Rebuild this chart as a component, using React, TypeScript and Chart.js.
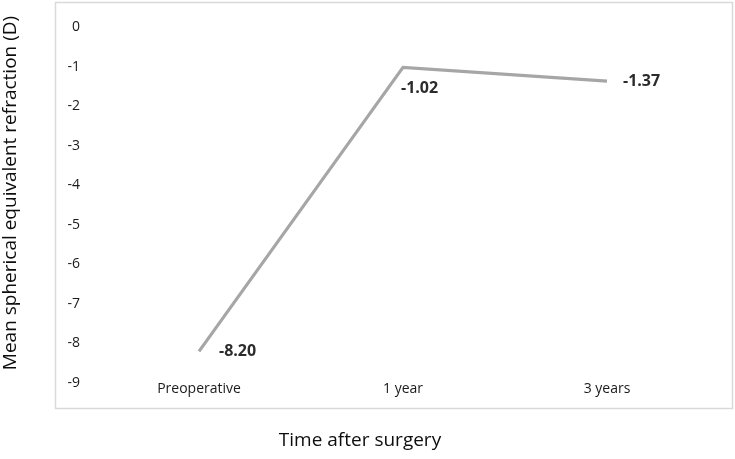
import React, { useEffect, useRef } from "react";
import { Chart, registerables } from "chart.js";

Chart.register(...registerables);

const categories: string[] = ["Preoperative", "1 year", "3 years"];
const meanSE: number[] = [-8.2, -1.02, -1.37];
const valueLabels: string[] = ["-8.20", "-1.02", "-1.37"];
const yTicksMin = -9;
const yTicksMax = 0;

const FONT = "'Open Sans', 'Noto Sans', sans-serif";

const decorPlugin = {
  id: "decor",
  afterDraw(chart: any) {
    const ctx = chart.ctx;
    ctx.save();
    // border
    ctx.strokeStyle = "#d9d9d9";
    ctx.lineWidth = 1.5;
    ctx.strokeRect(55.5, 2.5, 677, 406);
    // y title
    ctx.fillStyle = "#0d0d0d";
    ctx.font = `19px ${FONT}`;
    ctx.textAlign = "center";
    ctx.textBaseline = "middle";
    ctx.save();
    ctx.translate(11, 193);
    ctx.rotate(-Math.PI / 2);
    ctx.fillText("Mean spherical equivalent refraction (D)", 0, 0);
    ctx.restore();
    // x title
    ctx.fillText("Time after surgery", 360, 441);
    // value labels
    const meta = chart.getDatasetMeta(0);
    const offsets = [
      [20, 0],
      [-2, 21],
      [16, 0],
    ];
    ctx.font = `bold 16px ${FONT}`;
    ctx.fillStyle = "#2b2b2b";
    ctx.textAlign = "left";
    meta.data.forEach((pt: any, i: number) => {
      ctx.fillText(valueLabels[i], pt.x + offsets[i][0], pt.y + offsets[i][1]);
    });
    ctx.restore();
  },
};

export default function App() {
  const ref = useRef<HTMLCanvasElement | null>(null);
  useEffect(() => {
    document.body.style.margin = "0";
    const chart = new Chart(ref.current as HTMLCanvasElement, {
      type: "line",
      data: {
        labels: categories,
        datasets: [
          {
            data: meanSE,
            borderColor: "#a6a6a6",
            borderWidth: 3.2,
            pointRadius: 0,
            tension: 0,
            fill: false,
          },
        ],
      },
      options: {
        animation: false,
        responsive: false,
        maintainAspectRatio: false,
        layout: { padding: { left: 0, right: 26, top: 27, bottom: 0 } },
        plugins: { legend: { display: false }, tooltip: { enabled: false } },
        scales: {
          x: {
            type: "category",
            offset: true,
            grid: { display: false, drawTicks: false },
            border: { display: false },
            ticks: {
              padding: -2,
              color: "#1a1a1a",
              font: { family: FONT, size: 14 },
              maxRotation: 0,
            },
            afterFit: (s: any) => {
              s.height = 76;
            },
          },
          y: {
            min: yTicksMin,
            max: yTicksMax,
            grid: { display: false, drawTicks: false },
            border: { display: false },
            ticks: {
              stepSize: 1,
              padding: 17,
              color: "#1a1a1a",
              font: { family: FONT, size: 14 },
            },
            afterFit: (s: any) => {
              s.width = 97;
            },
          },
        },
      },
      plugins: [decorPlugin],
    });
    return () => chart.destroy();
  }, []);
  return (
    <div style={{ position: "fixed", left: 0, top: 0, width: 735, height: 459, background: "#fff" }}>
      <canvas ref={ref} width={735} height={459} style={{ width: 735, height: 459 }} />
    </div>
  );
}
